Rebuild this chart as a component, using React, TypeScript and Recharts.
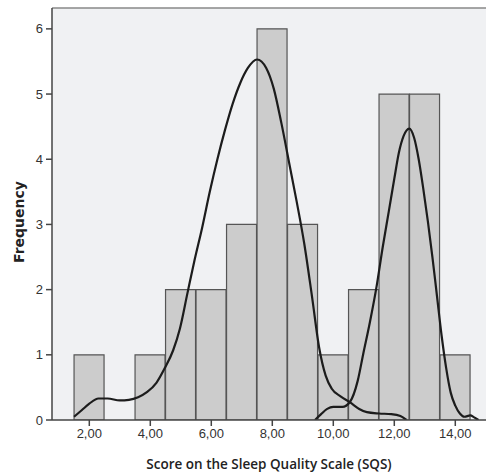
import { ComposedChart, Bar, Line, XAxis, YAxis, CartesianGrid, ReferenceLine } from 'recharts';

// histogram bins (centre of each 1-wide bin) and their counts
const binCentres = [2, 3, 4, 5, 6, 7, 8, 9, 10, 11, 12, 13, 14];
const binCounts = [1, 0, 1, 2, 2, 3, 6, 3, 1, 2, 5, 5, 1];

// left density curve
const curve1X = [1.5, 1.75, 2.0, 2.3, 2.6, 3.0, 3.3, 3.6, 3.9, 4.2, 4.48, 4.75, 4.97, 5.22, 5.45, 5.7, 5.95, 6.2, 6.45, 6.7, 6.95, 7.2, 7.5, 7.8, 8.05, 8.3, 8.55, 8.8, 9.05, 9.3, 9.54, 9.75, 9.95, 10.25, 10.55, 10.85, 11.1, 11.5, 11.9, 12.2, 12.4];
const curve1Y = [0.05, 0.15, 0.25, 0.33, 0.33, 0.3, 0.31, 0.35, 0.43, 0.57, 0.8, 1.07, 1.4, 1.95, 2.45, 2.95, 3.5, 4.0, 4.45, 4.85, 5.17, 5.4, 5.53, 5.4, 5.08, 4.55, 3.95, 3.35, 2.7, 1.9, 1.1, 0.68, 0.48, 0.36, 0.27, 0.17, 0.12, 0.1, 0.09, 0.06, 0];

// right density curve
const curve2X = [9.4, 9.6, 9.8, 10.0, 10.3, 10.55, 10.8, 10.98, 11.2, 11.42, 11.62, 11.82, 12.0, 12.15, 12.3, 12.49, 12.65, 12.8, 12.95, 13.1, 13.25, 13.4, 13.55, 13.7, 13.85, 14.0, 14.15, 14.3, 14.49, 14.62, 14.76];
const curve2Y = [0, 0.09, 0.17, 0.2, 0.2, 0.28, 0.6, 1.01, 1.5, 2.05, 2.65, 3.2, 3.7, 4.1, 4.35, 4.47, 4.33, 4.0, 3.55, 3.05, 2.5, 1.9, 1.3, 0.8, 0.42, 0.22, 0.1, 0.05, 0.07, 0.04, 0];

const xTicks = [2, 4, 6, 8, 10, 12, 14];
const yTicks = [0, 1, 2, 3, 4, 5, 6];

const bars = binCentres.map((x, i) => ({ x, count: binCounts[i] }));
const curve1 = curve1X.map((x, i) => ({ x, density: curve1Y[i] }));
const curve2 = curve2X.map((x, i) => ({ x, density: curve2Y[i] }));

const tickStyle = { fill: '#333', fontSize: 13, fontFamily: 'Liberation Sans, Arial, sans-serif' };

export default function App() {
    return (
        <div style={{ position: 'absolute', left: 0, top: 0, width: 486, height: 475, background: '#fff' }}>
            <ComposedChart width={486} height={475} data={bars} barCategoryGap={0} margin={{ top: 8, right: 0, left: 0, bottom: 0 }}>
                <CartesianGrid horizontal={false} vertical={false} fill="#f0f1f3" />
                <XAxis
                    type="number"
                    dataKey="x"
                    domain={[0.777, 15.007]}
                    allowDataOverflow
                    ticks={xTicks}
                    tickFormatter={(v) => v.toFixed(2).replace('.', ',')}
                    tick={tickStyle}
                    tickSize={6}
                    tickMargin={3}
                    height={55}
                    stroke="#444"
                    strokeWidth={1.5}
                    label={{
                        value: 'Score on the Sleep Quality Scale (SQS)',
                        position: 'insideBottom',
                        offset: 6,
                        style: { fill: '#222', fontSize: 13.5, fontWeight: 600, fontFamily: 'Open Sans, sans-serif' },
                    }}
                />
                {/* hidden band axis so each bin is exactly one unit wide on the numeric axis */}
                <XAxis xAxisId="bins" type="category" dataKey="x" hide padding={{ left: 22.05, right: 15.46 }} />
                <YAxis
                    type="number"
                    domain={[0, 6.32]}
                    allowDataOverflow
                    ticks={yTicks}
                    tick={tickStyle}
                    tickSize={6}
                    tickMargin={3}
                    width={52}
                    stroke="#444"
                    strokeWidth={1.5}
                    label={{
                        content: ({ viewBox }: any) => {
                            const cx = 19;
                            const cy = viewBox.y + viewBox.height / 2 + 8;
                            return (
                                <text
                                    x={cx}
                                    y={cy}
                                    transform={`rotate(-90 ${cx} ${cy})`}
                                    textAnchor="middle"
                                    dominantBaseline="central"
                                    style={{ fill: '#222', fontSize: 14, fontWeight: 700, fontFamily: 'DejaVu Sans, sans-serif' }}
                                >
                                    Frequency
                                </text>
                            );
                        },
                    }}
                />
                <ReferenceLine y={6.32} stroke="#888" strokeWidth={1.5} />
                <Bar xAxisId="bins" dataKey="count" fill="#cccccc" stroke="#555" strokeWidth={1.2} isAnimationActive={false} />
                <Line data={curve1} dataKey="density" type="monotone" stroke="#1c1c1c" strokeWidth={2.2} dot={false} isAnimationActive={false} />
                <Line data={curve2} dataKey="density" type="monotone" stroke="#1c1c1c" strokeWidth={2.2} dot={false} isAnimationActive={false} />
            </ComposedChart>
        </div>
    );
}
